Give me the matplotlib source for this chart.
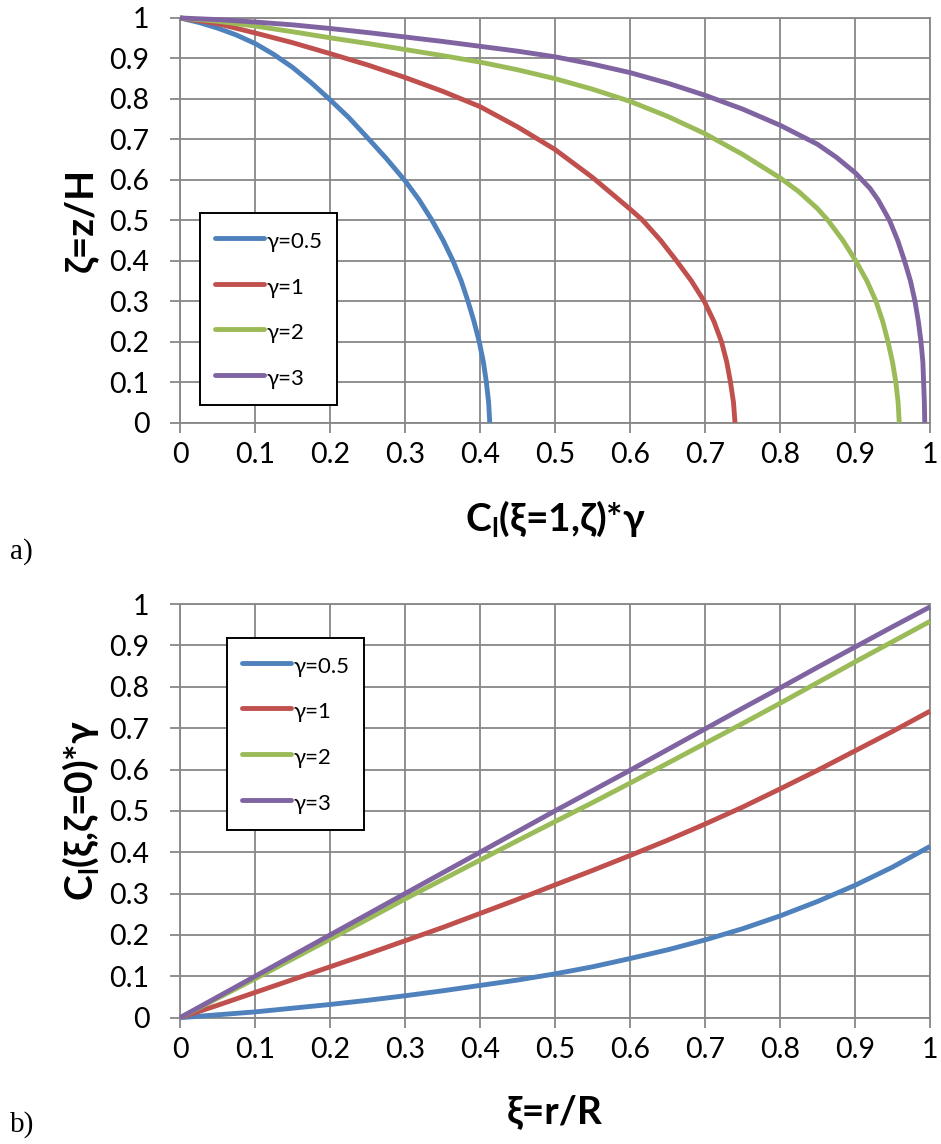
import matplotlib
matplotlib.use("Agg")
import matplotlib.pyplot as plt

# series names / colours (Excel 2007 palette)
labels = ["γ=0.5", "γ=1", "γ=2", "γ=3"]
colors = ["#4F81BD", "#C0504D", "#9BBB59", "#8064A2"]

# panel a) : C_l(xi=1, zeta)*gamma  vs  zeta  (read off the figure)
a_x_05 = [0, 0.025, 0.05, 0.075, 0.1, 0.125, 0.15, 0.175, 0.2, 0.225, 0.252, 0.275, 0.3,
          0.319, 0.336, 0.351, 0.364, 0.375, 0.384, 0.392, 0.399, 0.4045, 0.4085, 0.4115, 0.413]
a_z_05 = [1, 0.989, 0.975, 0.958, 0.937, 0.910, 0.878, 0.840, 0.798, 0.754, 0.70, 0.653, 0.598,
          0.55, 0.50, 0.45, 0.40, 0.35, 0.30, 0.25, 0.20, 0.15, 0.10, 0.05, 0]
a_x_1 = [0, 0.05, 0.1, 0.15, 0.2, 0.25, 0.3, 0.35, 0.4, 0.45, 0.5, 0.55, 0.6, 0.617, 0.641,
         0.662, 0.682, 0.699, 0.712, 0.722, 0.729, 0.734, 0.738, 0.740]
a_z_1 = [1, 0.986, 0.963, 0.939, 0.912, 0.884, 0.853, 0.819, 0.781, 0.731, 0.675, 0.606, 0.528,
         0.50, 0.45, 0.40, 0.35, 0.30, 0.25, 0.20, 0.15, 0.10, 0.05, 0]
a_x_2 = [0, 0.05, 0.1, 0.15, 0.2, 0.25, 0.3, 0.35, 0.4, 0.45, 0.5, 0.55, 0.6, 0.65, 0.7, 0.75,
         0.8, 0.825, 0.85, 0.864, 0.884, 0.901, 0.916, 0.928, 0.937, 0.944, 0.950, 0.9545,
         0.9575, 0.959]
a_z_2 = [1, 0.992, 0.980, 0.966, 0.951, 0.937, 0.922, 0.907, 0.891, 0.872, 0.850, 0.824, 0.794,
         0.757, 0.714, 0.663, 0.605, 0.571, 0.529, 0.50, 0.45, 0.40, 0.35, 0.30, 0.25, 0.20,
         0.15, 0.10, 0.05, 0]
a_x_3 = [0, 0.05, 0.1, 0.15, 0.2, 0.25, 0.3, 0.35, 0.4, 0.45, 0.5, 0.55, 0.6, 0.65, 0.7, 0.75,
         0.8, 0.85, 0.875, 0.9, 0.92, 0.931, 0.946, 0.957, 0.966, 0.974, 0.980, 0.9845, 0.988,
         0.9905, 0.9915, 0.9925, 0.993]
a_z_3 = [1, 0.996, 0.99, 0.983, 0.974, 0.964, 0.953, 0.942, 0.930, 0.918, 0.904, 0.886, 0.865,
         0.839, 0.809, 0.775, 0.735, 0.688, 0.656, 0.618, 0.579, 0.55, 0.50, 0.45, 0.40, 0.35,
         0.30, 0.25, 0.20, 0.15, 0.10, 0.05, 0]

# panel b) : C_l(xi, zeta=0)*gamma  vs  xi
xi = [0, 0.05, 0.1, 0.15, 0.2, 0.25, 0.3, 0.35, 0.4, 0.45, 0.5, 0.55, 0.6, 0.65, 0.7, 0.75,
      0.8, 0.85, 0.9, 0.95, 1.0]
b_c_05 = [0, 0.007, 0.014, 0.023, 0.032, 0.042, 0.053, 0.065, 0.078, 0.091, 0.106, 0.123,
          0.143, 0.164, 0.188, 0.215, 0.246, 0.281, 0.320, 0.364, 0.414]
b_c_1 = [0, 0.030, 0.061, 0.092, 0.123, 0.154, 0.186, 0.218, 0.252, 0.286, 0.321, 0.356,
         0.392, 0.429, 0.468, 0.509, 0.553, 0.598, 0.645, 0.692, 0.741]
b_c_2 = [0, 0.047, 0.094, 0.142, 0.190, 0.238, 0.287, 0.334, 0.381, 0.428, 0.474, 0.520,
         0.567, 0.615, 0.663, 0.711, 0.760, 0.810, 0.860, 0.909, 0.958]
b_c_3 = [0, 0.050, 0.100, 0.150, 0.200, 0.250, 0.300, 0.350, 0.400, 0.450, 0.500, 0.549,
         0.598, 0.648, 0.698, 0.748, 0.797, 0.847, 0.896, 0.945, 0.993]

ticks = [0, 0.1, 0.2, 0.3, 0.4, 0.5, 0.6, 0.7, 0.8, 0.9, 1]
tick_labels = ["0", "0.1", "0.2", "0.3", "0.4", "0.5", "0.6", "0.7", "0.8", "0.9", "1"]

FONT = ["Lato", "DejaVu Sans"]
plt.rcParams["font.family"] = FONT
GRID = "#878787"
LW = 3.5


def style_axes(ax):
    ax.set_xlim(0, 1)
    ax.set_ylim(0, 1)
    ax.set_xticks(ticks)
    ax.set_yticks(ticks)
    ax.set_xticklabels(tick_labels)
    ax.set_yticklabels(tick_labels)
    ax.grid(True, color=GRID, lw=1.3)
    ax.set_axisbelow(True)
    for s in ax.spines.values():
        s.set_color(GRID)
        s.set_linewidth(1.3)
    ax.tick_params(axis="x", direction="out", length=7, width=1.3, color=GRID,
                   labelsize=20.5, pad=7)
    ax.tick_params(axis="y", direction="out", length=7, width=1.3, color=GRID,
                   labelsize=20.5, pad=15)


fig = plt.figure(figsize=(9.41, 11.44), dpi=100)
ax1 = fig.add_axes([0.1913, 0.6305, 0.797, 0.3538])
ax2 = fig.add_axes([0.1913, 0.1104, 0.797, 0.3616])

top = [(a_x_05, a_z_05), (a_x_1, a_z_1), (a_x_2, a_z_2), (a_x_3, a_z_3)]
for (x, z), c, lab in zip(top, colors, labels):
    ax1.plot(x, z, color=c, lw=LW, label=lab, clip_on=False,
             solid_capstyle="butt", solid_joinstyle="round", zorder=3)

bottom = [b_c_05, b_c_1, b_c_2, b_c_3]
for y, c, lab in zip(bottom, colors, labels):
    ax2.plot(xi, y, color=c, lw=LW, label=lab, clip_on=False,
             solid_capstyle="butt", solid_joinstyle="round", zorder=3)

for ax in (ax1, ax2):
    style_axes(ax)

leg_kw = dict(fontsize=16, frameon=True, fancybox=False, framealpha=1,
              edgecolor="black", labelspacing=0.9, handlelength=2.2,
              handleheight=1.4, handletextpad=0.15, borderpad=0.65,
              borderaxespad=0)
l1 = ax1.legend(loc="lower left", bbox_to_anchor=(0.027, 0.044), **leg_kw)
l2 = ax2.legend(loc="upper left", bbox_to_anchor=(0.063, 0.918), **leg_kw)
for lg in (l1, l2):
    lg.get_frame().set_linewidth(1.4)
    for ln in lg.get_lines():
        ln.set_linewidth(LW)
        ln.set_solid_capstyle("round")

lab_kw = dict(fontsize=28, fontweight="bold", family="Lato")
ax1.set_xlabel("C$_\\mathregular{l}$(ξ=1,ζ)*γ", va="center", **lab_kw)
ax1.xaxis.set_label_coords(0.5, -0.236)
ax1.set_ylabel("ζ=z/H", va="center", **lab_kw)
ax1.yaxis.set_label_coords(-0.133, 0.5)

ax2.set_xlabel("ξ=r/R", va="center", **lab_kw)
ax2.xaxis.set_label_coords(0.5, -0.228)
ax2.set_ylabel("C$_\\mathregular{l}$(ξ,ζ=0)*γ", va="center", **lab_kw)
ax2.yaxis.set_label_coords(-0.133, 0.5)

fig.text(0.011, 1 - 552 / 1144, "a)", va="center", ha="left",
         family="Liberation Serif", fontsize=21)
fig.text(0.011, 1 - 1125 / 1144, "b)", va="center", ha="left",
         family="Liberation Serif", fontsize=21)

fig.savefig("out.png", dpi=100)
